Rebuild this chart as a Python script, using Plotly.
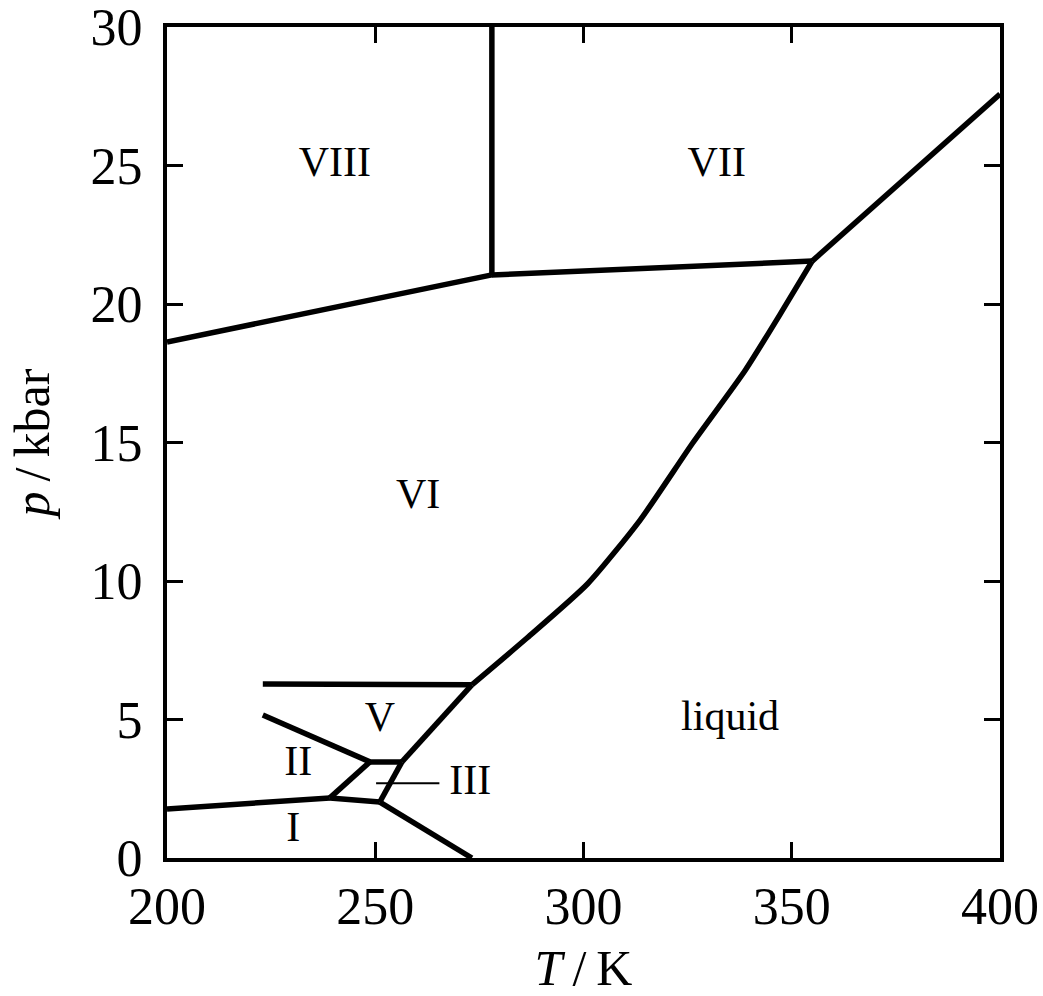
import plotly.graph_objects as go

# Phase boundaries of water ice (T in K, p in kbar)
viii_vi_T = [200.0, 278.0]
viii_vi_p = [18.63, 21.05]

viii_vii_T = [278.0, 278.0]
viii_vii_p = [21.05, 30.0]

vii_vi_T = [278.0, 354.9]
vii_vi_p = [21.05, 21.55]

vii_liq_T = [354.9, 400.0]
vii_liq_p = [21.55, 27.58]

vi_liq_T = [273.2, 286.5, 301.0, 313.6, 326.3, 338.8, 347.7, 354.9]
vi_liq_p = [6.25, 7.95, 9.9, 12.2, 15.0, 17.6, 19.75, 21.55]

v_vi_T = [223.0, 273.2]
v_vi_p = [6.28, 6.25]

ii_v_T = [223.0, 248.7]
ii_v_p = [5.16, 3.47]

v_iii_T = [248.7, 256.4]
v_iii_p = [3.47, 3.47]

v_liq_T = [256.4, 273.2]
v_liq_p = [3.47, 6.25]

ii_iii_T = [248.7, 239.1]
ii_iii_p = [3.47, 2.17]

iii_liq_T = [256.4, 251.1]
iii_liq_p = [3.47, 2.02]

i_ii_T = [200.0, 239.1]
i_ii_p = [1.77, 2.17]

i_iii_T = [239.1, 251.1]
i_iii_p = [2.17, 2.02]

i_liq_T = [251.1, 273.2]
i_liq_p = [2.02, 0.0]

pointer_T = [250.2, 265.4]
pointer_p = [2.7, 2.7]

label_text = ["VIII", "VII", "VI", "V", "II", "III", "I", "liquid"]
label_T = [240.3, 332.0, 260.3, 251.1, 231.5, 272.8, 230.3, 335.2]
label_p = [25.0, 25.0, 13.0, 4.98, 3.36, 2.7, 1.0, 5.0]

x_ticks = [200, 250, 300, 350, 400]
y_ticks = [0, 5, 10, 15, 20, 25, 30]

FONT = "Liberation Serif"

fig = go.Figure()

boundaries = [
    (viii_vi_T, viii_vi_p), (viii_vii_T, viii_vii_p), (vii_vi_T, vii_vi_p),
    (vii_liq_T, vii_liq_p), (vi_liq_T, vi_liq_p), (v_vi_T, v_vi_p),
    (ii_v_T, ii_v_p), (v_iii_T, v_iii_p), (v_liq_T, v_liq_p),
    (ii_iii_T, ii_iii_p), (iii_liq_T, iii_liq_p), (i_ii_T, i_ii_p),
    (i_iii_T, i_iii_p), (i_liq_T, i_liq_p),
]
for T, p in boundaries:
    fig.add_trace(go.Scatter(x=T, y=p, mode="lines",
                             line=dict(color="black", width=5.5, shape="spline", smoothing=0.6),
                             showlegend=False, hoverinfo="skip"))

fig.add_trace(go.Scatter(x=pointer_T, y=pointer_p, mode="lines",
                         line=dict(color="black", width=2),
                         showlegend=False, hoverinfo="skip"))

fig.add_trace(go.Scatter(x=label_T, y=label_p, mode="text", text=label_text,
                         textfont=dict(family=FONT, size=42, color="black"),
                         textposition="middle center",
                         showlegend=False, hoverinfo="skip"))

axis_common = dict(
    showgrid=False, zeroline=False, automargin=False,
    showline=True, linecolor="black", linewidth=4, mirror="allticks",
    ticks="inside", ticklen=16, tickwidth=3, tickcolor="black",
    ticklabeloverflow="allow",
    tickfont=dict(family=FONT, size=52, color="black"),
)

fig.update_layout(
    width=1043, height=996,
    margin=dict(l=167, r=43, t=27, b=138),
    paper_bgcolor="white", plot_bgcolor="white",
    xaxis=dict(range=[199.999, 400.001], tickvals=x_ticks,
               ticklabelstandoff=0,
               title=dict(text="<i>T</i>\u2009/\u2009K", standoff=20,
                          font=dict(family=FONT, size=50, color="black")),
               **axis_common),
    yaxis=dict(range=[-0.0001, 30.0001], tickvals=y_ticks,
               ticklabelstandoff=10,
               title=dict(text="<i>p</i>\u2009/\u2009kbar", standoff=26,
                          font=dict(family=FONT, size=50, color="black")),
               **axis_common),
)

fig.write_html("out.html")
